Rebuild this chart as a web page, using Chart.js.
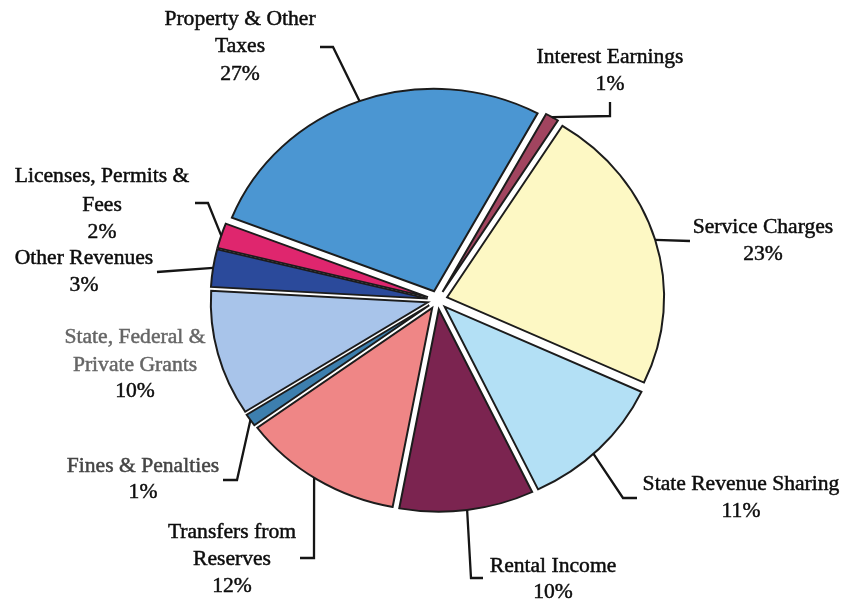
<!DOCTYPE html>
<html>
<head>
<meta charset="utf-8">
<script src="https://cdn.jsdelivr.net/npm/chart.js@4/dist/chart.umd.min.js"></script>
<style>
  html, body { margin: 0; padding: 0; background: #ffffff; }
  #wrap { width: 844px; height: 601px; }
  canvas { display: block; }
</style>
</head>
<body>
<div id="wrap"><canvas id="revenues" width="844" height="601"></canvas></div>
<script>
// Revenue sources, clockwise from the top
const categories = [
  'Interest Earnings',
  'Service Charges',
  'State Revenue Sharing',
  'Rental Income',
  'Transfers from Reserves',
  'Fines & Penalties',
  'State, Federal & Private Grants',
  'Other Revenues',
  'Licenses, Permits & Fees',
  'Property & Other Taxes'
];

// Share of total revenue, percent
const shares = [1, 23, 11, 10, 12, 1, 10, 3, 2, 27];

// How each category name is broken over lines in its label
const labelLines = [
  ['Interest Earnings'],
  ['Service Charges'],
  ['State Revenue Sharing'],
  ['Rental Income'],
  ['Transfers from', 'Reserves'],
  ['Fines & Penalties'],
  ['State, Federal &', 'Private Grants'],
  ['Other Revenues'],
  ['Licenses, Permits &', 'Fees'],
  ['Property & Other', 'Taxes']
];

// Slice fills
const sliceColors = [
  '#a1445f', '#fdf8c4', '#b3e0f5', '#7b2450', '#ef8686',
  '#3d7fae', '#a8c4ea', '#2b4a9b', '#df266e', '#4b96d2'
];

// Label placement: centre x, line centre y's, leader elbow points, where on the slice the leader lands
const labelPlacement = [
  { x: 610, ys: [58, 85],       elbow: [[610, 102], [610, 116]], at: 0.5,  color: '#0d0d0d' },
  { x: 763, ys: [228, 255],     elbow: [[690, 241]],             at: 0.5,  color: '#0d0d0d' },
  { x: 741, ys: [485, 512],     elbow: [[637, 498], [623, 498]], at: 0.55, color: '#0d0d0d' },
  { x: 553, ys: [567, 593],     elbow: [[483, 578], [471, 578]], at: 0.5,  color: '#0d0d0d' },
  { x: 232, ys: [533, 560, 587],elbow: [[300, 558], [314, 558]], at: 0.52, color: '#0d0d0d' },
  { x: 143, ys: [467, 493],     elbow: [[223, 480], [237, 480]], at: 0.5,  color: '#454545' },
  { x: 135, ys: [338, 366, 392],elbow: null,                     at: 0.5,  color: '#666666' },
  { x: 84,  ys: [259, 286],     elbow: [[157, 272]],             at: 0.5,  color: '#0d0d0d' },
  { x: 102, ys: [177, 206, 233],elbow: [[195, 203], [208, 203]], at: 0.5,  color: '#0d0d0d' },
  { x: 240, ys: [20, 47, 75],   elbow: [[320, 47], [333, 47]],   at: 0.5,  color: '#0d0d0d' }
];

const EXPLODE = 10;      // outward shift of every slice, px
const SQUASH = 0.933;    // vertical flattening of the pie
const TEXT_STRETCH = 1.08;

// point on a slice's rim (after its outward shift and the flattening)
function rimPoint(el, t) {
  const mid = (el.startAngle + el.endAngle) / 2;
  const a = el.startAngle + (el.endAngle - el.startAngle) * t;
  const r = el.outerRadius;
  const x = el.x + Math.cos(mid) * EXPLODE + Math.cos(a) * r;
  const y = el.y + Math.sin(mid) * EXPLODE + Math.sin(a) * r;
  return { x: x, y: el.y + (y - el.y) * SQUASH };
}

// draws each arc shifted out along its bisector, on a slightly flattened pie
const explodedPie = {
  id: 'explodedPie',
  beforeDatasetDraw(chart, args) {
    const ctx = chart.ctx;
    args.meta.data.forEach(el => {
      const mid = (el.startAngle + el.endAngle) / 2;
      ctx.save();
      ctx.translate(el.x, el.y);
      ctx.scale(1, SQUASH);
      ctx.translate(-el.x, -el.y);
      ctx.translate(Math.cos(mid) * EXPLODE, Math.sin(mid) * EXPLODE);
      el.draw(ctx, chart.chartArea);
      ctx.restore();
    });
    return false;
  }
};

// category labels with percentages and leader lines
const sliceLabels = {
  id: 'sliceLabels',
  afterDraw(chart) {
    const ctx = chart.ctx;
    const arcs = chart.getDatasetMeta(0).data;
    ctx.save();
    ctx.strokeStyle = '#151515';
    ctx.lineWidth = 2.3;
    ctx.lineJoin = 'miter';
    labelPlacement.forEach((p, i) => {
      if (!p.elbow) return;
      const end = rimPoint(arcs[i], p.at);
      ctx.beginPath();
      ctx.moveTo(p.elbow[0][0], p.elbow[0][1]);
      for (let k = 1; k < p.elbow.length; k++) ctx.lineTo(p.elbow[k][0], p.elbow[k][1]);
      ctx.lineTo(end.x, end.y);
      ctx.stroke();
    });

    ctx.font = '20px "Liberation Serif", "Times New Roman", serif';
    ctx.textAlign = 'center';
    ctx.textBaseline = 'middle';
    ctx.lineWidth = 0.45;
    labelPlacement.forEach((p, i) => {
      const lines = labelLines[i].concat([shares[i] + '%']);
      lines.forEach((txt, k) => {
        const isValue = k === lines.length - 1;
        const col = isValue ? '#0d0d0d' : p.color;
        ctx.fillStyle = col;
        ctx.strokeStyle = col;
        ctx.save();
        ctx.translate(p.x, p.ys[k]);
        ctx.scale(TEXT_STRETCH, 1);
        ctx.fillText(txt, 0, 0);
        ctx.strokeText(txt, 0, 0);
        ctx.restore();
      });
    });
    ctx.restore();
  }
};

new Chart(document.getElementById('revenues'), {
  type: 'pie',
  data: {
    labels: categories,
    datasets: [{
      data: shares,
      backgroundColor: sliceColors,
      borderColor: '#1c1c1c',
      borderWidth: 2,
      borderJoinStyle: 'miter'
    }]
  },
  options: {
    responsive: false,
    animation: false,
    devicePixelRatio: 1,
    rotation: 28.5,
    radius: 217,
    layout: { padding: { left: 31, right: 0, top: 0, bottom: 1 } },
    plugins: {
      legend: { display: false },
      tooltip: { enabled: false }
    }
  },
  plugins: [explodedPie, sliceLabels]
});
</script>
</body>
</html>
